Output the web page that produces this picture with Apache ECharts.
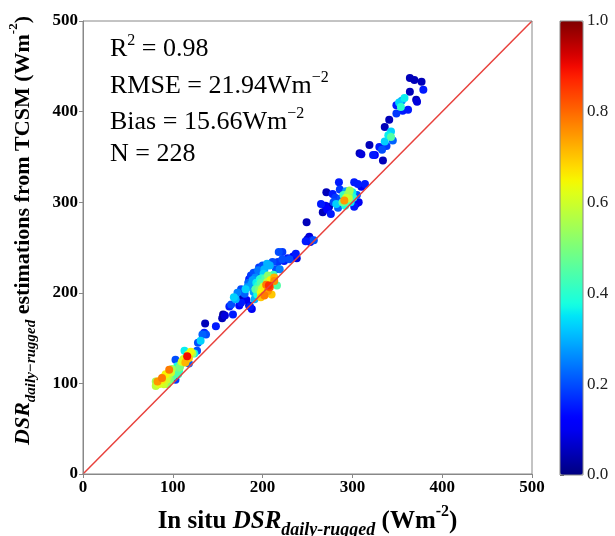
<!DOCTYPE html>
<html><head><meta charset="utf-8">
<script src="https://cdn.jsdelivr.net/npm/echarts@6/dist/echarts.min.js"></script>
<style>html,body{margin:0;padding:0;background:#fff}#c{width:615px;height:536px}</style>
</head><body><div id="c"></div>
<script>
// ---- data: [in situ DSR, TCSM estimate, normalised point density] ----
const axisTicks = [0, 100, 200, 300, 400, 500];
const colorbarTicks = [0.0, 0.2, 0.4, 0.6, 0.8, 1.0];
const oneToOne = [[0, 0], [500, 500]];
const statLines = ['R2 = 0.98', 'RMSE = 21.94', 'Bias = 15.66', 'N = 228'];

const clusterLow = [
  [81,97,0.58],[81,102,0.55],[83,102,0.75],[85,100,0.62],[88,104,0.66],[88,106,0.78],[90,99,0.6],
  [92,110,0.65],[93,104,0.6],[94,99,0.52],[94,110,0.6],[96,115,0.78],[98,112,0.6],[100,108,0.45],
  [101,113,0.45],[103,104,0.18],[103,126,0.2],[105,119,0.38],[107,117,0.48],[107,114,0.4],[109,121,0.5],
  [110,124,0.62],[111,124,0.36],[113,136,0.36],[114,123,0.72],[116,130,0.9],[118,128,0.7],[118,122,0.22],
  [120,135,0.64],[122,133,0.55],[124,133,0.36],[127,136,0.2],[128,145,0.2],[131,147,0.33],[133,154,0.22],
  [137,154,0.2],[136,166,0.05],[135,156,0.15],
  [86,103,0.62],[90,107,0.6],[95,108,0.55],[97,104,0.5],[99,116,0.55],[104,112,0.45],[108,118,0.5],
  [112,127,0.6],[115,126,0.66],[117,132,0.6],[106,110,0.4],[84,99,0.6]
];
const clusterMid = [
  [148,163,0.15],[155,172,0.05],[156,176,0.03],[158,175,0.08],[163,185,0.15],[165,187,0.2],[167,176,0.15],
  [168,195,0.33],[170,193,0.3],[176,204,0.2],[176,189,0.15],[177,193,0.05],[178,197,0.05],[181,204,0.33],
  [183,206,0.28],[185,186,0.05],[186,185,0.15],[188,182,0.1],[185,215,0.15],[187,219,0.18],[188,210,0.28],
  [191,193,0.3],[192,204,0.45],[193,211,0.36],[194,222,0.2],[196,228,0.18],[196,204,0.5],[197,215,0.38],
  [198,211,0.45],[198,200,0.62],[198,195,0.7],[200,200,0.65],[200,230,0.2],[201,221,0.33],[202,197,0.78],
  [202,226,0.3],[203,205,0.66],[204,209,0.78],[205,232,0.3],[206,219,0.52],[206,202,0.75],[207,208,0.86],
  [208,206,0.82],[208,230,0.3],[209,214,0.65],[210,198,0.7],[211,234,0.2],[212,220,0.42],[213,213,0.76],
  [213,217,0.72],[215,226,0.2],[216,208,0.45],[217,234,0.18],[218,245,0.2],[219,226,0.25],[222,245,0.18],
  [222,237,0.2],[224,235,0.15],[228,238,0.15],[230,237,0.2],[234,240,0.12],[237,243,0.15],[238,238,0.08],
  [199,204,0.58],[201,207,0.6],[205,212,0.58],[195,208,0.4],[199,216,0.4],[194,198,0.38],[203,216,0.45],
  [190,201,0.28],[189,214,0.28],[186,209,0.24],[192,217,0.26],[180,199,0.22],[184,211,0.22],[195,225,0.24],
  [190,222,0.2],[172,200,0.25],[174,186,0.12],[182,192,0.1]
];
const clusterUpper = [
  [248,257,0.15],[249,278,0.05],[250,259,0.05],[253,256,0.1],[255,258,0.15],[257,258,0.2],[252,262,0.08],
  [265,298,0.15],[267,289,0.05],[270,296,0.1],[271,311,0.05],[272,292,0.12],[274,295,0.05],[276,287,0.15],
  [278,309,0.15],[279,300,0.2],[281,305,0.18],[282,298,0.33],[284,294,0.22],[285,322,0.15],[286,314,0.18],
  [287,304,0.2],[289,300,0.48],[290,308,0.42],[291,302,0.75],[292,296,0.38],[293,312,0.28],[295,309,0.52],
  [296,304,0.58],[297,313,0.55],[298,300,0.36],[300,311,0.36],[301,305,0.38],[302,322,0.15],[302,295,0.15],
  [304,298,0.12],[305,308,0.2],[306,320,0.15],[307,300,0.1],[314,320,0.15],[310,317,0.1],
  [293,305,0.6],[294,300,0.45],[296,308,0.5],[299,306,0.4]
];
const clusterHigh = [
  [308,354,0.05],[310,353,0.08],[319,363,0.05],[323,352,0.15],[325,352,0.12],[330,361,0.15],[333,358,0.2],
  [334,346,0.05],[336,367,0.33],[338,362,0.18],[340,374,0.36],[343,372,0.45],[343,378,0.33],[345,368,0.22],
  [336,383,0.05],[341,391,0.05],[349,398,0.18],[349,407,0.15],[352,410,0.33],[354,405,0.4],[355,412,0.28],
  [358,415,0.36],[356,401,0.15],[362,402,0.15],[364,422,0.05],[371,413,0.05],[372,411,0.08],[379,424,0.15],
  [364,437,0.05],[369,435,0.05],[377,433,0.05]
];

// ---- styling helpers ----
function jet(t){
  const r = t<0.35?0 : t<0.66?(t-0.35)/0.31 : t<0.89?1 : 1-(t-0.89)/0.11*0.5;
  const g = t<0.125?0 : t<0.375?(t-0.125)/0.25 : t<0.64?1 : t<0.91?1-(t-0.64)/0.27 : 0;
  const b = t<0.11?0.5+t/0.11*0.5 : t<0.34?1 : t<0.65?1-(t-0.34)/0.31 : 0;
  return 'rgb('+Math.round(r*255)+','+Math.round(g*255)+','+Math.round(b*255)+')';
}
const jetColors = [];
for (let i = 0; i <= 40; i++) jetColors.push(jet(i/40));

const SERIF = "'Liberation Serif', 'Times New Roman', serif";
const points = clusterLow.concat(clusterMid, clusterUpper, clusterHigh).slice().sort((a,b)=>a[2]-b[2]);

function nameRich(size, subSize){
  return {
    b:   {fontFamily: SERIF, fontWeight: 'bold', fontSize: size, color: '#000', lineHeight: size + 10},
    bi:  {fontFamily: SERIF, fontWeight: 'bold', fontStyle: 'italic', fontSize: size, color: '#000', lineHeight: size + 10},
    sub: {fontFamily: SERIF, fontWeight: 'bold', fontStyle: 'italic', fontSize: subSize, color: '#000', verticalAlign: 'bottom', lineHeight: subSize + 1},
    sup: {fontFamily: SERIF, fontWeight: 'bold', fontSize: subSize - 2, color: '#000', verticalAlign: 'top', lineHeight: subSize + 1}
  };
}
const statRich = {
  m:   {fontFamily: SERIF, fontSize: 26, color: '#000', lineHeight: 32},
  s:   {fontFamily: SERIF, fontSize: 16, color: '#000', verticalAlign: 'top', lineHeight: 14}
};
function statText(line){
  if (line.startsWith('R2')) return '{m|R}{s|2}{m| ' + line.slice(3) + '}';
  if (line.startsWith('N')) return '{m|' + line + '}';
  return '{m|' + line + 'Wm}{s|\u22122}';
}

const chart = echarts.init(document.getElementById('c'), null, {renderer: 'canvas'});
chart.setOption({
  animation: false,
  backgroundColor: '#fff',
  grid: [
    {left: 83, top: 21, width: 449, height: 453, show: true, borderColor: '#888', borderWidth: 1, backgroundColor: 'transparent', z: 5, outerBoundsMode: 'none', containLabel: false},
    {left: 560, top: 21, width: 23, height: 454, show: true, borderColor: '#888', borderWidth: 1, backgroundColor: 'transparent', z: 5, outerBoundsMode: 'none', containLabel: false}
  ],
  xAxis: [
    {type: 'value', gridIndex: 0, min: axisTicks[0], max: axisTicks[axisTicks.length-1], interval: 100,
     splitLine: {show: false},
     axisLine: {show: true, lineStyle: {color: '#888', width: 1}},
     axisTick: {show: true, inside: false, length: 4, lineStyle: {color: '#888'}},
     axisLabel: {fontFamily: SERIF, fontWeight: 'bold', fontSize: 17, color: '#000', margin: 5},
     name: '{b|In situ }{bi|DSR}{sub|daily-rugged}{b| (Wm}{sup|-2}{b|)}',
     nameLocation: 'middle', nameGap: 30, nameTextStyle: {rich: nameRich(25, 18)}},
    {type: 'value', gridIndex: 1, show: false, min: 0, max: 1}
  ],
  yAxis: [
    {type: 'value', gridIndex: 0, min: axisTicks[0], max: axisTicks[axisTicks.length-1], interval: 100,
     splitLine: {show: false},
     axisLine: {show: true, lineStyle: {color: '#888', width: 1}},
     axisTick: {show: true, inside: false, length: 4, lineStyle: {color: '#888'}},
     axisLabel: {fontFamily: SERIF, fontWeight: 'bold', fontSize: 17, color: '#000', margin: 5},
     name: '{bi|DSR}{sub|daily\u2212rugged}{b| estimations from TCSM (Wm}{sup|-2}{b|)}',
     nameLocation: 'middle', nameGap: 44, nameRotate: 90,
     nameTextStyle: {rich: nameRich(22, 15), padding: [0, 0, 0, 34]}},
    {type: 'value', gridIndex: 1, position: 'right', min: colorbarTicks[0], max: colorbarTicks[colorbarTicks.length-1], interval: 0.2,
     splitLine: {show: false}, axisLine: {show: false},
     axisTick: {show: true, inside: false, length: 4, lineStyle: {color: '#555'}},
     axisLabel: {fontFamily: SERIF, fontSize: 17, color: '#222', margin: 4, formatter: v => v.toFixed(1)}}
  ],
  visualMap: {
    type: 'continuous', min: 0, max: 1, dimension: 2, seriesIndex: 0,
    inRange: {color: jetColors},
    left: 560, top: 21, itemWidth: 23, itemHeight: 454, padding: 0,
    calculable: false, hoverLink: false, text: null, showLabel: false, z: 1
  },
  graphic: statLines.map((line, i) => ({
    type: 'text', left: 110, top: [33, 70, 106, 141][i], z: 10,
    style: {text: statText(line), rich: statRich}
  })),
  series: [
    {type: 'scatter', xAxisIndex: 0, yAxisIndex: 0, data: points, symbolSize: 8,
     itemStyle: {opacity: 1}, z: 2},
    {type: 'line', xAxisIndex: 0, yAxisIndex: 0, data: oneToOne, symbol: 'none', silent: true,
     lineStyle: {color: '#e8413c', width: 1.5}, z: 3}
  ]
});
</script>
</body></html>
